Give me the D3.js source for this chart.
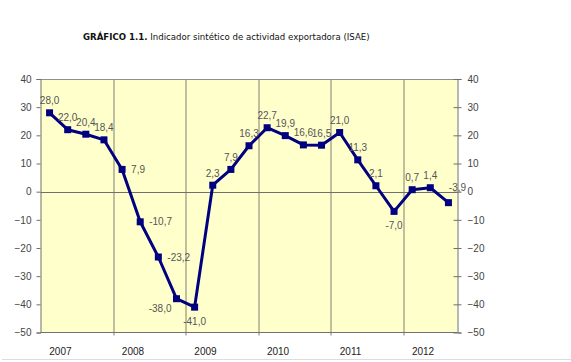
<!DOCTYPE html>
<html>
<head>
<meta charset="utf-8">
<script src="https://cdn.jsdelivr.net/npm/d3@7"></script>
<style>
  body { margin: 0; background: #fff; }
</style>
</head>
<body>
<div id="chart"></div>
<script>
// Quarterly values, 2007 Q1 .. 2012 Q3
const quarters = d3.range( 23 ).map( function( i ) { return 'T' + i; } );
const years = [ '2007', '2008', '2009', '2010', '2011', '2012' ];
const isae = [ 28.0, 22.0, 20.4, 18.4, 7.9, -10.7, -23.2, -38.0, -41.0, 2.3, 7.9, 16.3,
               22.7, 19.9, 16.6, 16.5, 21.0, 11.3, 2.1, -7.0, 0.7, 1.4, -3.9 ];
const yTicks = [ 40, 30, 20, 10, 0, -10, -20, -30, -40, -50 ];

// where each data label sits relative to its point
const labelPos = [ 'a', 'a', 'a', 'a', 'r', 'r', 'r', 'bl', 'b', 'a', 'a', 'a',
                   'a', 'a', 'a', 'a', 'a', 'a', 'a', 'b', 'a', 'a', 'ar' ];

const figure_width = 571;
const figure_height = 362;
const plot_margin = { top: 79, right: 113.5, bottom: 29.5, left: 40.5 },
    plot_width = figure_width - plot_margin.left - plot_margin.right,
    plot_height = figure_height - plot_margin.top - plot_margin.bottom;

const labelStyle = 'font-size:10px; font-family:"Liberation Sans", Arial, sans-serif;';
const fmt = function( v ) { return v.toFixed( 1 ).replace( '.', ',' ); };

const root = d3.select( 'div#chart' )
  .append( 'svg' )
    .attr( 'width', figure_width )
    .attr( 'height', figure_height );

// Title
const title = root.append( 'text' )
  .attr( 'x', 83 )
  .attr( 'y', 40 )
  .attr( 'style', 'font-size:8.6px; font-family:"DejaVu Sans", Verdana, sans-serif;' )
  .attr( 'fill', '#111' );
title.append( 'tspan' ).attr( 'font-weight', 'bold' ).text( 'GRÁFICO 1.1.' );
title.append( 'tspan' ).text( ' Indicador sintético de actividad exportadora (ISAE)' );

// bottom rule of the frame
root.append( 'line' )
  .attr( 'x1', 2 ).attr( 'x2', figure_width )
  .attr( 'y1', 359.5 ).attr( 'y2', 359.5 )
  .attr( 'stroke', '#dcdcdc' );

const svg = root.append( 'g' )
  .attr( 'transform', 'translate( ' + plot_margin.left + ', ' + plot_margin.top + ' )' );

const x = d3.scaleBand()
  .domain( quarters )
  .range( [ 0, plot_width ] );

const y = d3.scaleLinear()
  .domain( [ -50, 40 ] )
  .range( [ plot_height, 0 ] );

// plot background
svg.append( 'rect' )
  .attr( 'width', plot_width )
  .attr( 'height', plot_height )
  .attr( 'fill', '#ffffcc' );

// year separators
const sepIdx = [ 4, 8, 12, 16, 20 ];
svg.append( 'g' )
  .selectAll( 'line' )
  .data( sepIdx )
  .enter()
  .append( 'line' )
    .attr( 'x1', function( d ) { return Math.round( x( quarters[ d ] ) ) + 0.5; } )
    .attr( 'x2', function( d ) { return Math.round( x( quarters[ d ] ) ) + 0.5; } )
    .attr( 'y1', 0 )
    .attr( 'y2', plot_height + 3 )
    .attr( 'stroke', '#808070' );

// zero line
svg.append( 'line' )
  .attr( 'x1', 0 ).attr( 'x2', plot_width )
  .attr( 'y1', Math.round( y( 0 ) ) + 0.5 ).attr( 'y2', Math.round( y( 0 ) ) + 0.5 )
  .attr( 'stroke', '#707070' );

// frame
svg.append( 'line' ).attr( 'x1', 0 ).attr( 'x2', plot_width ).attr( 'y1', 0.5 ).attr( 'y2', 0.5 ).attr( 'stroke', '#909090' );
svg.append( 'line' ).attr( 'x1', 0 ).attr( 'x2', plot_width ).attr( 'y1', plot_height ).attr( 'y2', plot_height ).attr( 'stroke', '#707070' );

// Y axes
const yLeft = svg.append( 'g' )
  .call( d3.axisLeft( y ).tickValues( yTicks ).tickSize( 4 ).tickPadding( 5 ) )
  .attr( 'style', labelStyle );
const yRight = svg.append( 'g' )
  .attr( 'transform', 'translate(' + plot_width + ',0)' )
  .call( d3.axisRight( y ).tickValues( yTicks ).tickSize( 4 ).tickPadding( 6 ) )
  .attr( 'style', labelStyle );
[ yLeft, yRight ].forEach( function( g ) {
  g.select( '.domain' ).attr( 'stroke', '#707070' );
  g.selectAll( '.tick line' ).attr( 'stroke', '#707070' );
  g.selectAll( '.tick text' ).attr( 'fill', '#444' );
} );
yRight.selectAll( '.tick line' ).attr( 'x1', -4 );

// year labels
svg.append( 'g' )
  .selectAll( 'text' )
  .data( years )
  .enter()
  .append( 'text' )
    .attr( 'x', function( d, i ) { return x( quarters[ i * 4 ] ) + x.bandwidth() * 1.1; } )
    .attr( 'y', plot_height + 22 )
    .attr( 'text-anchor', 'middle' )
    .attr( 'style', labelStyle )
    .attr( 'fill', '#222' )
    .text( function( d ) { return d; } );

// series line
const line = d3.line()
  .x( function( d, i ) { return x( quarters[ i ] ) + x.bandwidth() / 2; } )
  .y( function( d ) { return y( d ); } );

svg.append( 'path' )
  .datum( isae )
  .attr( 'd', line )
  .attr( 'fill', 'none' )
  .attr( 'stroke', '#000080' )
  .attr( 'stroke-width', 3 )
  .attr( 'stroke-linejoin', 'round' );

// markers
const size = 7;
svg.append( 'g' )
  .selectAll( 'rect' )
  .data( isae )
  .enter()
  .append( 'rect' )
    .attr( 'x', function( d, i ) { return x( quarters[ i ] ) + x.bandwidth() / 2 - size / 2; } )
    .attr( 'y', function( d ) { return y( d ) - size / 2; } )
    .attr( 'width', size )
    .attr( 'height', size )
    .attr( 'fill', '#000080' );

// data labels
const offsets = {
  'a':  { dx: 0,   dy: -12, anchor: 'middle' },
  'r':  { dx: 9,   dy: 0,   anchor: 'start' },
  'b':  { dx: 0,   dy: 14,  anchor: 'middle' },
  'bl': { dx: -5,  dy: 10,  anchor: 'end' },
  'ar': { dx: 9,   dy: -15, anchor: 'middle' }
};
svg.append( 'g' )
  .selectAll( 'text' )
  .data( isae )
  .enter()
  .append( 'text' )
    .attr( 'x', function( d, i ) { return x( quarters[ i ] ) + x.bandwidth() / 2 + offsets[ labelPos[ i ] ].dx; } )
    .attr( 'y', function( d, i ) { return y( d ) + offsets[ labelPos[ i ] ].dy; } )
    .attr( 'dy', '0.35em' )
    .attr( 'text-anchor', function( d, i ) { return offsets[ labelPos[ i ] ].anchor; } )
    .attr( 'style', labelStyle )
    .attr( 'fill', '#555' )
    .text( function( d ) { return fmt( d ); } );
</script>
</body>
</html>
